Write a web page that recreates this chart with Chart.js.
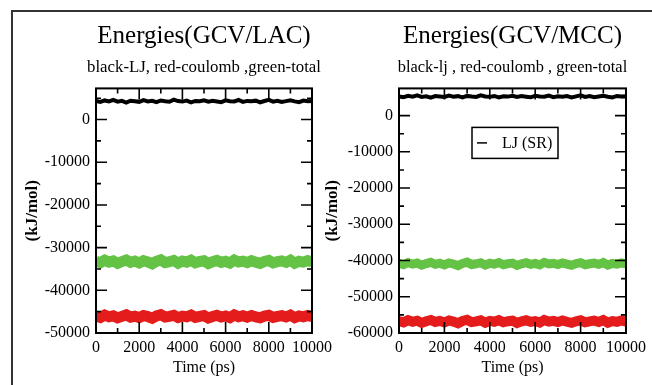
<!DOCTYPE html>
<html><head><meta charset="utf-8">
<script src="https://cdn.jsdelivr.net/npm/chart.js@4"></script>
<style>
html,body{margin:0;padding:0;background:#fff;}
body{width:652px;height:385px;position:relative;overflow:hidden;}
#frame{position:absolute;left:11px;top:10px;width:660px;height:400px;border-top:2px solid #333;border-left:2px solid #333;}
canvas{position:absolute;top:0;}
#c1{left:0;}
#c2{left:318px;}
</style></head><body>
<div id="frame"></div>
<canvas id="c1" width="345" height="385"></canvas>
<canvas id="c2" width="334" height="385"></canvas>
<script>
// ---- data ----
const timePs = [0,200,400,600,800,1000,1200,1400,1600,1800,2000,2200,2400,2600,2800,3000,3200,3400,3600,3800,4000,4200,4400,4600,4800,5000,5200,5400,5600,5800,6000,6200,6400,6600,6800,7000,7200,7400,7600,7800,8000,8200,8400,8600,8800,9000,9200,9400,9600,9800,10000];
const xTickLabels = [0,2000,4000,6000,8000,10000];

const ljLAC = [4350,4120,4480,4260,4610,4190,4380,3980,4420,4300,4150,4560,4240,4390,4070,4470,4280,4180,4650,4330,4210,4440,4020,4360,4290,4520,4170,4400,4250,4080,4490,4310,4230,4580,4140,4370,4270,4430,4050,4340,4600,4200,4410,4130,4320,4500,4260,4060,4450,4280,4350];
const totalLAC = [-33200,-33550,-32950,-33400,-33100,-33700,-33250,-32900,-33450,-33150,-33600,-33050,-33350,-33800,-33200,-32850,-33500,-33300,-33000,-33650,-33150,-33400,-32950,-33550,-33250,-33100,-33750,-33300,-33000,-33450,-33200,-33600,-32900,-33350,-33150,-33500,-33050,-33400,-33700,-33250,-33000,-33550,-33300,-33100,-33450,-32950,-33650,-33200,-33400,-33050,-33350];
const coulLAC = [-46000,-46350,-45800,-46200,-45950,-46450,-46100,-45750,-46300,-46050,-46400,-45900,-46150,-46550,-46000,-45700,-46250,-46100,-45850,-46400,-46050,-46200,-45800,-46350,-46100,-45900,-46500,-46150,-45850,-46250,-46000,-46400,-45750,-46200,-45950,-46300,-45900,-46250,-46450,-46050,-45850,-46350,-46100,-45950,-46250,-45800,-46400,-46000,-46200,-45900,-46150];

const ljMCC = [5300,5080,5450,5220,5560,5150,5340,4950,5400,5260,5120,5500,5200,5360,5030,5430,5250,5140,5600,5290,5170,5410,4990,5330,5240,5480,5130,5370,5210,5040,5460,5280,5190,5540,5100,5350,5230,5390,5010,5310,5570,5160,5380,5090,5290,5470,5220,5020,5420,5250,5310];
const totalMCC = [-40800,-41150,-40550,-41000,-40700,-41300,-40850,-40500,-41050,-40750,-41200,-40650,-40950,-41400,-40800,-40450,-41100,-40900,-40600,-41250,-40750,-41000,-40550,-41150,-40850,-40700,-41350,-40900,-40600,-41050,-40800,-41200,-40500,-40950,-40750,-41100,-40650,-41000,-41300,-40850,-40600,-41150,-40900,-40700,-41050,-40550,-41250,-40800,-41000,-40650,-40950];
const coulMCC = [-56700,-57050,-56450,-56900,-56600,-57200,-56750,-56400,-56950,-56650,-57100,-56550,-56850,-57300,-56700,-56350,-57000,-56800,-56500,-57150,-56650,-56900,-56450,-57050,-56750,-56600,-57250,-56800,-56500,-56950,-56700,-57100,-56400,-56850,-56650,-57000,-56550,-56900,-57200,-56750,-56500,-57050,-56800,-56600,-56950,-56450,-57150,-56700,-56900,-56550,-56850];

const yTicksLAC = [-50000,-40000,-30000,-20000,-10000,0];
const yTicksMCC = [-60000,-50000,-40000,-30000,-20000,-10000,0];

// ---- drawing ----
const SERIF = "'Liberation Serif','Times New Roman',serif";
const BLACK = '#000000', RED = '#e41c1c', GREEN = '#64c244';

const frameTicks = {
  id: 'frameTicks',
  afterDatasetsDraw(chart) {
    const {ctx, chartArea: a, scales: {x, y}} = chart;
    ctx.save();
    ctx.strokeStyle = '#000';
    ctx.lineWidth = 1.6;
    ctx.beginPath();
    for (let v = x.min; v <= x.max; v += 1000) {
      const px = x.getPixelForValue(v);
      const len = v % 2000 === 0 ? 11 : 5;
      ctx.moveTo(px, a.bottom); ctx.lineTo(px, a.bottom - len);
      ctx.moveTo(px, a.top); ctx.lineTo(px, a.top + len);
    }
    for (let v = Math.ceil(y.min / 5000) * 5000; v <= y.max; v += 5000) {
      const py = y.getPixelForValue(v);
      const len = v % 10000 === 0 ? 11 : 5;
      ctx.moveTo(a.left, py); ctx.lineTo(a.left + len, py);
      ctx.moveTo(a.right, py); ctx.lineTo(a.right - len, py);
    }
    ctx.stroke();
    ctx.lineWidth = 2;
    ctx.strokeRect(a.left, a.top, a.right - a.left, a.bottom - a.top);
    ctx.restore();
  }
};

// let the (non full-size) title boxes extend past the plot width so text is not squeezed
const widenTitles = {
  id: 'widenTitles',
  afterLayout(chart) {
    chart.boxes.forEach(b => {
      if (b.type === undefined && b.options && typeof b.options.text === 'string') {
        b.left -= 40; b.right += 40; b.width += 80;
      }
    });
  }
};

const boxLegend = {
  id: 'boxLegend',
  afterDatasetsDraw(chart, args, o) {
    if (!o || !o.show) return;
    const {ctx, chartArea: a} = chart;
    const ds = chart.data.datasets[o.index];
    const L = a.left + o.dx, T = a.top + o.dy;
    ctx.save();
    ctx.fillStyle = '#fff';
    ctx.fillRect(L, T, o.w, o.h);
    ctx.strokeStyle = '#000';
    ctx.lineWidth = 1.5;
    ctx.strokeRect(L, T, o.w, o.h);
    ctx.beginPath();
    ctx.strokeStyle = ds.borderColor;
    ctx.moveTo(L + 5, T + o.h / 2); ctx.lineTo(L + 15, T + o.h / 2);
    ctx.stroke();
    ctx.fillStyle = '#000';
    ctx.font = '16px ' + SERIF;
    ctx.textBaseline = 'middle';
    ctx.fillText(ds.label, L + 30, T + o.h / 2 + 1);
    ctx.restore();
  }
};

function makeChart(id, cfg) {
  const datasets = cfg.series.map(s => ({
    label: s.label,
    data: timePs.map((t, i) => ({x: t, y: s.values[i]})),
    borderColor: s.color,
    backgroundColor: s.color,
    borderWidth: s.width,
    pointRadius: 0,
    tension: 0,
    borderJoinStyle: 'miter',
    fill: false
  }));
  const subH = cfg.subSize * 1.2;
  return new Chart(document.getElementById(id), {
    type: 'line',
    data: {datasets},
    options: {
      responsive: false,
      animation: false,
      devicePixelRatio: 1,
      layout: {padding: {left: 0, right: cfg.padRight, top: 0, bottom: 0}},
      plugins: {
        legend: {display: false},
        tooltip: {enabled: false},
        title: {display: true, text: cfg.title, fullSize: false, color: '#000',
          font: {family: SERIF, size: 25, weight: 'normal', lineHeight: 1.2}, padding: {top: 21, bottom: 0}},
        subtitle: {display: true, text: cfg.subtitle, fullSize: false, color: '#000',
          font: {family: SERIF, size: cfg.subSize, weight: 'normal', lineHeight: 1.2},
          padding: {top: 17 - subH / 2, bottom: 88.4 - 51 - (17 - subH / 2) - subH}},
        boxLegend: cfg.legend || {show: false}
      },
      scales: {
        x: {
          type: 'linear', min: 0, max: 10000,
          grid: {display: false, drawTicks: false},
          border: {display: false},
          afterBuildTicks(s) { s.ticks = xTickLabels.map(v => ({value: v})); },
          ticks: {padding: 5, maxRotation: 0, autoSkip: false, color: '#000', font: {family: SERIF, size: 16},
            callback: v => String(v)},
          title: {display: true, text: 'Time (ps)', color: '#000', font: {family: SERIF, size: 16, lineHeight: 1.2}, padding: {top: 0, bottom: 8}},
          afterFit(s) { s.height = 52; s.paddingLeft = 0; s.paddingRight = 0; }
        },
        y: {
          type: 'linear', min: cfg.yMin, max: cfg.yMax,
          grid: {display: false, drawTicks: false},
          border: {display: false},
          afterBuildTicks(s) { s.ticks = cfg.yTicks.map(v => ({value: v})); },
          ticks: {padding: 6, autoSkip: false, color: '#000', font: {family: SERIF, size: 16},
            callback: v => String(v)},
          title: {display: true, text: '(kJ/mol)', color: '#000', font: {family: SERIF, size: 17, weight: 'bold', lineHeight: 1.2}, padding: {top: cfg.yTitlePad, bottom: 0}},
          afterFit(s) { s.width = cfg.yWidth; s.paddingTop = 0; s.paddingBottom = 0; }
        }
      }
    },
    plugins: [widenTitles, frameTicks, boxLegend]
  });
}

makeChart('c1', {
  title: 'Energies(GCV/LAC)',
  subtitle: 'black-LJ, red-coulomb ,green-total',
  subSize: 16.8,
  yMin: -50000, yMax: 7300, yTicks: yTicksLAC,
  yWidth: 96, yTitlePad: 22, padRight: 33,
  series: [
    {label: 'LJ (SR)', values: ljLAC, color: BLACK, width: 4},
    {label: 'Coulomb (SR)', values: coulLAC, color: RED, width: 11},
    {label: 'Total Energy', values: totalLAC, color: GREEN, width: 11}
  ]
});

makeChart('c2', {
  title: 'Energies(GCV/MCC)',
  subtitle: 'black-lj , red-coulomb , green-total',
  subSize: 16.4,
  yMin: -60000, yMax: 7500, yTicks: yTicksMCC,
  yWidth: 81, yTitlePad: 4, padRight: 26,
  legend: {show: true, index: 0, dx: 73, dy: 39, w: 86, h: 31},
  series: [
    {label: 'LJ (SR)', values: ljMCC, color: BLACK, width: 4},
    {label: 'Coulomb (SR)', values: coulMCC, color: RED, width: 10},
    {label: 'Total Energy', values: totalMCC, color: GREEN, width: 9}
  ]
});
</script>
</body></html>
